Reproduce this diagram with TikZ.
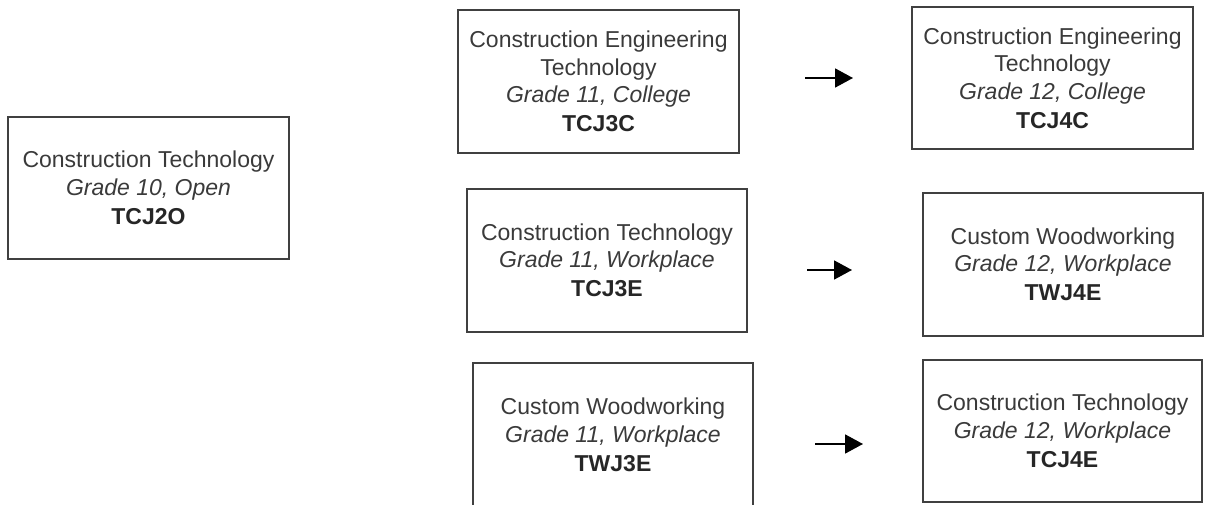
\documentclass[tikz,border=0pt]{standalone}
\usepackage{fontspec}
\setmainfont{Liberation Sans}
\usetikzlibrary{arrows.meta}
\definecolor{txt}{HTML}{3A3A3A}
\definecolor{edge}{HTML}{404040}
\tikzset{
  course/.style={draw=edge, line width=1.3pt, rectangle, inner sep=0pt, align=center,
    text=txt, font=\fontsize{23}{27.5}\selectfont},
  flow/.style={line width=1.8pt, black, -{Triangle[length=18pt,width=19pt]}}
}
\newcommand{\code}[1]{\\[1.5pt]{\bfseries\color{black!85}#1}}
\begin{document}
\begin{tikzpicture}[x=1pt,y=-1pt]
\useasboundingbox (0,0) rectangle (1205,505);
\node[course, minimum width=281pt, minimum height=142pt] (A) at (148.5,188)
  {Construction Technology\\\textit{Grade 10, Open}\code{TCJ2O}};
\node[course, minimum width=281pt, minimum height=143pt] (B) at (598.5,81.5)
  {Construction Engineering\\Technology\\\textit{Grade 11, College}\code{TCJ3C}};
\node[course, minimum width=281pt, minimum height=142pt] (C) at (1052.5,78)
  {Construction Engineering\\Technology\\\textit{Grade 12, College}\code{TCJ4C}};
\node[course, minimum width=280pt, minimum height=143pt] (D) at (607,260.5)
  {Construction Technology\\\textit{Grade 11, Workplace}\code{TCJ3E}};
\node[course, minimum width=280pt, minimum height=143pt] (E) at (1063,264.5)
  {Custom Woodworking\\\textit{Grade 12, Workplace}\code{TWJ4E}};
\node[course, minimum width=280pt, minimum height=144pt] (F) at (613,435)
  {Custom Woodworking\\\textit{Grade 11, Workplace}\code{TWJ3E}};
\node[course, minimum width=279pt, minimum height=142pt] (G) at (1062.5,431)
  {Construction Technology\\\textit{Grade 12, Workplace}\code{TCJ4E}};
\coordinate (a1s) at (805,78);  \coordinate (a1e) at (853,78);
\coordinate (a2s) at (807,270); \coordinate (a2e) at (852,270);
\coordinate (a3s) at (815,444); \coordinate (a3e) at (863,444);
\draw[flow] (a1s) -- (a1e);
\draw[flow] (a2s) -- (a2e);
\draw[flow] (a3s) -- (a3e);
\end{tikzpicture}
\end{document}
